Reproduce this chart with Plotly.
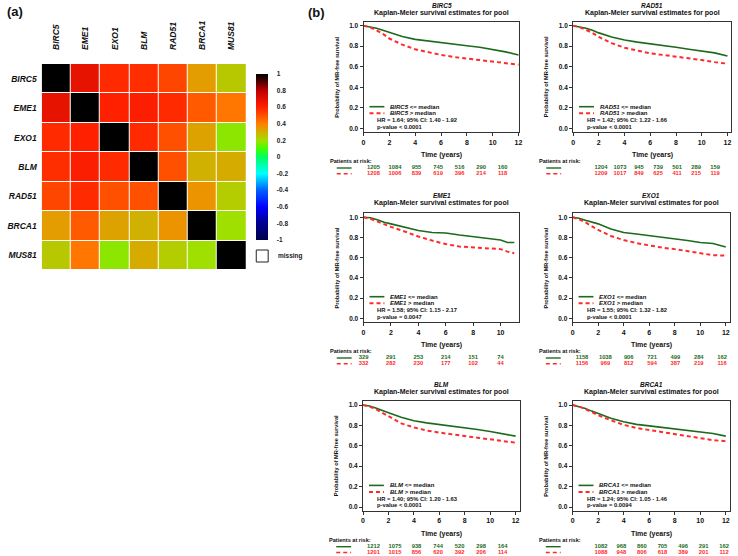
import plotly.graph_objects as go

W, H = 738, 556
FONT = "Liberation Sans"
GREEN = "#1d6a1d"
RED = "#ff2a2a"

# ---------------- (a) correlation heatmap data ----------------
genes = ["BIRC5", "EME1", "EXO1", "BLM", "RAD51", "BRCA1", "MUS81"]
corr_birc5 = [1.00, 0.68, 0.58, 0.57, 0.52, 0.34, 0.25]
corr_eme1 = [0.68, 1.00, 0.60, 0.61, 0.58, 0.48, 0.42]
corr_exo1 = [0.58, 0.60, 1.00, 0.58, 0.50, 0.33, 0.18]
corr_blm = [0.57, 0.61, 0.58, 1.00, 0.50, 0.30, 0.31]
corr_rad51 = [0.52, 0.58, 0.50, 0.50, 1.00, 0.36, 0.24]
corr_brca1 = [0.34, 0.48, 0.33, 0.30, 0.36, 1.00, 0.20]
corr_mus81 = [0.25, 0.42, 0.18, 0.31, 0.24, 0.20, 1.00]
cbar_vals = [1, 0.8, 0.6, 0.4, 0.2, 0, -0.2, -0.4, -0.6, -0.8, -1]
cbar_text = ["1", "0.8", "0.6", "0.4", "0.2", "0", "-0.2", "-0.4", "-0.6", "-0.8", "-1"]

# ---------------- (b) Kaplan-Meier data ----------------
time_pts = [0, 0.5, 1, 1.5, 2, 3, 4, 5, 6, 7, 8, 9, 10, 11, 12]
time_pts_eme1 = [0, 0.5, 1, 1.5, 2, 3, 4, 5, 6, 7, 8, 9, 10, 10.5, 11]

birc5_low = [1.0, 0.99, 0.975, 0.955, 0.935, 0.895, 0.867, 0.85, 0.835, 0.82, 0.805, 0.79, 0.77, 0.745, 0.715]
birc5_high = [1.0, 0.985, 0.955, 0.92, 0.875, 0.815, 0.77, 0.74, 0.715, 0.695, 0.68, 0.665, 0.645, 0.63, 0.62]
rad51_low = [1.0, 0.99, 0.975, 0.955, 0.93, 0.89, 0.86, 0.84, 0.825, 0.81, 0.79, 0.77, 0.755, 0.735, 0.705]
rad51_high = [1.0, 0.985, 0.96, 0.93, 0.89, 0.83, 0.785, 0.755, 0.73, 0.715, 0.70, 0.68, 0.665, 0.645, 0.63]
eme1_low = [1.0, 0.995, 0.975, 0.95, 0.935, 0.905, 0.87, 0.85, 0.845, 0.825, 0.81, 0.795, 0.775, 0.75, 0.75]
eme1_high = [1.0, 0.985, 0.96, 0.93, 0.905, 0.86, 0.81, 0.77, 0.735, 0.71, 0.70, 0.695, 0.685, 0.66, 0.645]
exo1_low = [1.0, 0.99, 0.97, 0.955, 0.935, 0.885, 0.85, 0.835, 0.82, 0.805, 0.79, 0.77, 0.75, 0.74, 0.705]
exo1_high = [1.0, 0.98, 0.95, 0.91, 0.875, 0.815, 0.775, 0.745, 0.72, 0.70, 0.685, 0.665, 0.645, 0.625, 0.62]
blm_low = [1.0, 0.99, 0.97, 0.95, 0.925, 0.88, 0.845, 0.825, 0.81, 0.79, 0.775, 0.76, 0.74, 0.72, 0.695]
blm_high = [1.0, 0.985, 0.96, 0.925, 0.89, 0.82, 0.78, 0.75, 0.73, 0.71, 0.695, 0.68, 0.665, 0.65, 0.63]
brca1_low = [1.0, 0.985, 0.965, 0.94, 0.915, 0.87, 0.835, 0.81, 0.795, 0.78, 0.765, 0.755, 0.74, 0.72, 0.695]
brca1_high = [1.0, 0.985, 0.96, 0.93, 0.90, 0.85, 0.805, 0.775, 0.755, 0.735, 0.715, 0.695, 0.675, 0.655, 0.645]

risk_times_12 = [0, 2, 4, 6, 8, 10, 12]
risk_times_10 = [0, 2, 4, 6, 8, 10]
birc5_risk_low = [1205, 1084, 955, 745, 516, 290, 160]
birc5_risk_high = [1208, 1006, 839, 619, 396, 214, 118]
rad51_risk_low = [1204, 1073, 945, 739, 501, 289, 159]
rad51_risk_high = [1209, 1017, 849, 625, 411, 215, 119]
eme1_risk_low = [329, 291, 253, 214, 151, 74]
eme1_risk_high = [332, 282, 230, 177, 102, 44]
exo1_risk_low = [1158, 1038, 906, 721, 499, 284, 162]
exo1_risk_high = [1156, 969, 812, 594, 387, 219, 116]
blm_risk_low = [1212, 1075, 938, 744, 520, 298, 164]
blm_risk_high = [1201, 1015, 856, 620, 392, 206, 114]
brca1_risk_low = [1082, 968, 860, 705, 496, 291, 162]
brca1_risk_high = [1088, 948, 806, 618, 389, 201, 112]

hr_labels = ["HR = 1.64; 95% CI: 1.40 - 1.92", "HR = 1.42; 95% CI: 1.22 - 1.66",
             "HR = 1.58; 95% CI: 1.15 - 2.17", "HR = 1.55; 95% CI: 1.32 - 1.82",
             "HR = 1.40; 95% CI: 1.20 - 1.63", "HR = 1.24; 95% CI: 1.05 - 1.46"]
p_labels = ["p-value < 0.0001", "p-value < 0.0001", "p-value = 0.0047",
            "p-value < 0.0001", "p-value < 0.0001", "p-value = 0.0094"]
km_genes = ["BIRC5", "RAD51", "EME1", "EXO1", "BLM", "BRCA1"]


def px(x):
    return min(max(x / W, 0), 1)


def py(y):
    return min(max(1 - y / H, 0), 1)


fig = go.Figure()
annotations = []
shapes = []
layout = {}

# ---------------- heatmap ----------------
corr = [corr_birc5, corr_eme1, corr_exo1, corr_blm, corr_rad51, corr_brca1, corr_mus81]
cscale = [
    [0.0, "#00004d"], [0.1, "#00008f"], [0.2, "#0000ff"], [0.3, "#0060ff"],
    [0.4, "#00ffff"], [0.5, "#00ff60"], [0.55, "#40ff00"], [0.6, "#a0e000"],
    [0.65, "#d0b000"], [0.7, "#ff8000"], [0.8, "#ff2000"], [0.9, "#c00000"],
    [0.97, "#300000"], [1.0, "#000000"],
]
fig.add_trace(go.Heatmap(
    z=corr, x=genes, y=genes, zmin=-1, zmax=1, colorscale=cscale,
    xgap=1, ygap=1, hoverinfo="skip",
    colorbar=dict(
        x=px(256), xanchor="left", y=py(157), yanchor="middle",
        len=166, lenmode="pixels", thickness=12, thicknessmode="pixels",
        xpad=0, ypad=0, outlinewidth=0,
        tickvals=cbar_vals, ticktext=cbar_text, ticks="outside", ticklen=8,
        tickcolor="white",
        tickfont=dict(family=FONT, size=6.5, color="#222", weight="bold"),
    ),
    xaxis="x", yaxis="y",
))
layout["xaxis"] = dict(domain=[px(40), px(246)], side="top", tickangle=-90,
                       showgrid=False, zeroline=False, showline=False, ticks="",
                       ticklabelstandoff=13,
                       tickvals=genes, ticktext=[f"<b><i>{g}</i></b>" for g in genes],
                       tickfont=dict(family=FONT, size=8.5, color="#111"))
layout["yaxis"] = dict(domain=[py(270), py(64)], autorange="reversed",
                       showgrid=False, zeroline=False, showline=False, ticks="",
                       ticklabelstandoff=4,
                       tickvals=genes, ticktext=[f"<b><i>{g}</i></b>" for g in genes],
                       tickfont=dict(family=FONT, size=8.5, color="#111"))

shapes.append(dict(type="rect", xref="paper", yref="paper",
                   x0=px(256), x1=px(268), y0=py(262), y1=py(250),
                   line=dict(color="#222", width=1)))
annotations.append(dict(text="<b>missing</b>", x=px(276), y=py(256), xref="paper", yref="paper",
                        xanchor="left", yanchor="middle", showarrow=False,
                        font=dict(family=FONT, size=6.5, color="#222")))
annotations.append(dict(text="<b>(a)</b>", x=px(3), y=py(12), xref="paper", yref="paper",
                        xanchor="left", yanchor="middle", showarrow=False,
                        font=dict(family=FONT, size=13, color="#111")))
annotations.append(dict(text="<b>(b)</b>", x=px(306), y=py(13), xref="paper", yref="paper",
                        xanchor="left", yanchor="middle", showarrow=False,
                        font=dict(family=FONT, size=13, color="#111")))

# ---------------- KM panels ----------------
curves_low = [birc5_low, rad51_low, eme1_low, exo1_low, blm_low, brca1_low]
curves_high = [birc5_high, rad51_high, eme1_high, exo1_high, blm_high, brca1_high]
curve_times = [time_pts, time_pts, time_pts_eme1, time_pts, time_pts, time_pts]
risk_low = [birc5_risk_low, rad51_risk_low, eme1_risk_low, exo1_risk_low, blm_risk_low, brca1_risk_low]
risk_high = [birc5_risk_high, rad51_risk_high, eme1_risk_high, exo1_risk_high, blm_risk_high, brca1_risk_high]
risk_times = [risk_times_12, risk_times_12, risk_times_10, risk_times_12, risk_times_12, risk_times_12]

# geometry (pixels): left, right, px per year, y of 0.0, px per unit, risk-table first/last x
geom = [
    (364, 521, 13.0, 128.3, 102.6, 374, 504),
    (575, 734, 12.95, 128.3, 102.6, 603, 718),
    (364, 521, 13.8, 318.3, 101.0, 364, 502),
    (574.5, 733, 12.85, 318.3, 101.0, 584, 725),
    (363.5, 521.5, 12.8, 507.0, 102.0, 374, 504),
    (574.5, 733, 12.85, 507.0, 102.0, 603, 727),
]

small = lambda s: dict(family=FONT, size=s, color="#111")

for i in range(6):
    xL, xR, ppy, y0, ppu, r0, r1 = geom[i]
    k = i + 2
    r = i + 8
    g = km_genes[i]
    xmax = (xR - xL) / ppy
    last_tick = risk_times[i][-1]
    layout[f"xaxis{k}"] = dict(
        domain=[px(xL), px(xR)], range=[0, xmax], anchor=f"y{k}",
        showline=True, mirror=True, linecolor="#333", linewidth=1,
        showgrid=False, zeroline=False, ticks="outside", ticklen=3, tickcolor="#333",
        tickvals=list(range(0, last_tick + 1, 2)),
        tickfont=dict(family=FONT, size=7, color="#111", weight="bold"),
    )
    layout[f"yaxis{k}"] = dict(
        domain=[py(y0 + 0.04 * ppu), py(y0 - 1.04 * ppu)], range=[-0.04, 1.04], anchor=f"x{k}",
        showline=True, mirror=True, linecolor="#333", linewidth=1,
        showgrid=False, zeroline=False, ticks="outside", ticklen=3, tickcolor="#333",
        tickvals=[0, 0.2, 0.4, 0.6, 0.8, 1.0], ticktext=["0.0", "0.2", "0.4", "0.6", "0.8", "1.0"],
        tickfont=dict(family=FONT, size=6.5, color="#111", weight="bold"),
    )
    fig.add_trace(go.Scatter(x=curve_times[i], y=curves_low[i], mode="lines",
                             line=dict(color=GREEN, width=1.6), xaxis=f"x{k}", yaxis=f"y{k}",
                             showlegend=False, hoverinfo="skip"))
    fig.add_trace(go.Scatter(x=curve_times[i], y=curves_high[i], mode="lines",
                             line=dict(color=RED, width=2, dash="4px,3px"), xaxis=f"x{k}", yaxis=f"y{k}",
                             showlegend=False, hoverinfo="skip"))

    # risk table on its own invisible axes (y measured in px below the 0.0 line)
    layout[f"xaxis{r}"] = dict(domain=[px(r0), px(r1)], range=[risk_times[i][0], risk_times[i][-1]],
                               visible=False, anchor=f"y{r}")
    layout[f"yaxis{r}"] = dict(domain=[py(y0 + 48), py(y0 + 36)], range=[48, 36],
                               visible=False, anchor=f"x{r}")
    n = len(risk_times[i])
    fig.add_trace(go.Scatter(x=risk_times[i], y=[39.7] * n, mode="text",
                             text=[str(v) for v in risk_low[i]], cliponaxis=False,
                             textfont=dict(family=FONT, size=5.8, color=GREEN, weight="bold"),
                             xaxis=f"x{r}", yaxis=f"y{r}", showlegend=False, hoverinfo="skip"))
    fig.add_trace(go.Scatter(x=risk_times[i], y=[45.5] * n, mode="text",
                             text=[str(v) for v in risk_high[i]], cliponaxis=False,
                             textfont=dict(family=FONT, size=5.8, color=RED, weight="bold"),
                             xaxis=f"x{r}", yaxis=f"y{r}", showlegend=False, hoverinfo="skip"))

    cx = (xL + xR) / 2
    annotations += [
        dict(text=f"<b><i>{g}</i></b>", x=px(cx), y=py(y0 - 123), font=small(6.5)),
        dict(text="<b>Kaplan-Meier survival estimates for pool</b>", x=px(cx), y=py(y0 - 115), font=small(7)),
        dict(text="<b>Probability of MR-free survival</b>", x=px(xL - 27), y=py(y0 - 0.5 * ppu),
             textangle=-90, font=small(5.6)),
        dict(text="<b>Time (years)</b>", x=px(cx), y=py(y0 + 26.7), font=small(7)),
        dict(text="<b>Patients at risk:</b>", x=px(xL - 36), y=py(y0 + 32.5), xanchor="left", font=small(5.6)),
        dict(text=f"<b><i>{g}</i> &lt;= median</b>", x=px(xL + 25), y=py(y0 - 21.6), xanchor="left", font=small(6)),
        dict(text=f"<b><i>{g}</i> &gt; median</b>", x=px(xL + 25), y=py(y0 - 15), xanchor="left", font=small(6)),
        dict(text=f"<b>{hr_labels[i]}</b>", x=px(xL + 12), y=py(y0 - 8.3), xanchor="left", font=small(5.8)),
        dict(text=f"<b>{p_labels[i]}</b>", x=px(xL + 12), y=py(y0 - 1.6), xanchor="left", font=small(5.8)),
    ]
    shapes += [
        dict(type="line", xref="paper", yref="paper", x0=px(xL + 6), x1=px(xL + 21),
             y0=py(y0 - 21.6), y1=py(y0 - 21.6), line=dict(color=GREEN, width=1.6)),
        dict(type="line", xref="paper", yref="paper", x0=px(xL + 6), x1=px(xL + 21),
             y0=py(y0 - 15), y1=py(y0 - 15), line=dict(color=RED, width=2, dash="4px,3px")),
        dict(type="line", xref="paper", yref="paper", x0=px(xL - 27), x1=px(xL - 12),
             y0=py(y0 + 39.7), y1=py(y0 + 39.7), line=dict(color=GREEN, width=1.4)),
        dict(type="line", xref="paper", yref="paper", x0=px(xL - 27), x1=px(xL - 12),
             y0=py(y0 + 45.5), y1=py(y0 + 45.5), line=dict(color=RED, width=1.6, dash="4px,3px")),
    ]

for a in annotations:
    a.setdefault("xref", "paper")
    a.setdefault("yref", "paper")
    a.setdefault("showarrow", False)
    a.setdefault("xanchor", "center")
    a.setdefault("yanchor", "middle")

fig.update_layout(
    width=W, height=H, autosize=False,
    margin=dict(l=0, r=0, t=0, b=0),
    paper_bgcolor="white", plot_bgcolor="white",
    showlegend=False,
    annotations=annotations, shapes=shapes,
    **layout,
)

fig.write_html(
    "out.html",
    config={"displayModeBar": False, "staticPlot": True},
    post_script="document.body.style.margin='0';document.body.style.padding='0';"
                "document.body.style.overflow='hidden';",
)
